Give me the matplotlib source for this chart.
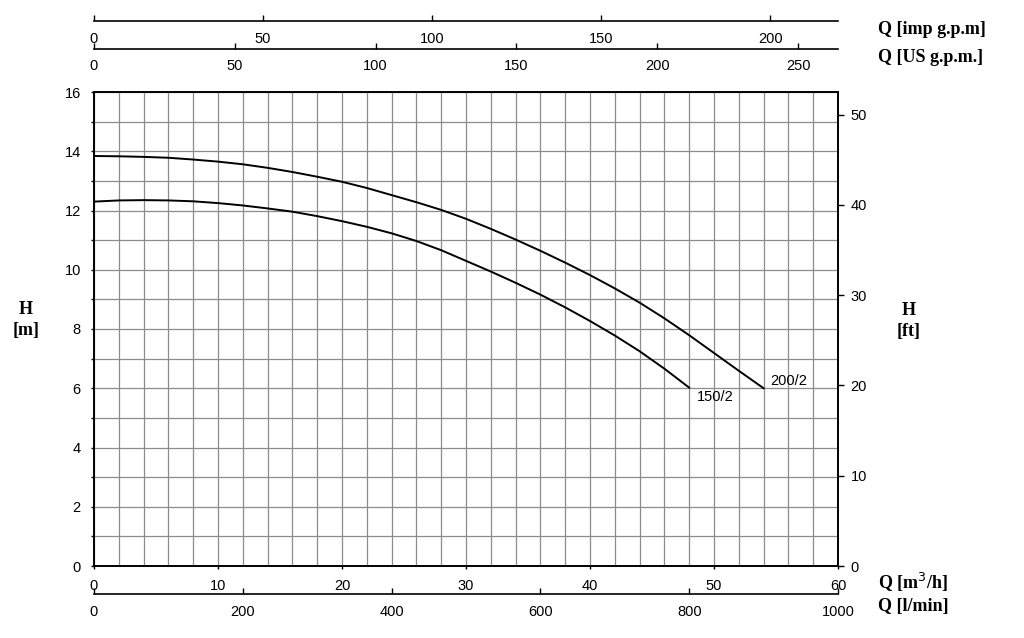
import matplotlib
matplotlib.use('Agg')
import matplotlib.pyplot as plt
from matplotlib.ticker import MultipleLocator

# ---------------- data ----------------
q_200 = [0, 2, 4, 6, 8, 10, 12, 14, 16, 18, 20, 22, 24, 26, 28, 30, 32, 34, 36, 38,
         40, 42, 44, 46, 48, 50, 52, 54]
h_200 = [13.84, 13.83, 13.81, 13.78, 13.72, 13.65, 13.56, 13.44, 13.30, 13.14, 12.97,
         12.76, 12.52, 12.28, 12.02, 11.72, 11.38, 11.02, 10.64, 10.24, 9.82, 9.37,
         8.89, 8.36, 7.79, 7.19, 6.59, 6.00]

q_150 = [0, 2, 4, 6, 8, 10, 12, 14, 16, 18, 20, 22, 24, 26, 28, 30, 32, 34, 36, 38,
         40, 42, 44, 46, 48]
h_150 = [12.30, 12.34, 12.35, 12.34, 12.31, 12.25, 12.17, 12.07, 11.96, 11.81, 11.64,
         11.45, 11.23, 10.97, 10.66, 10.30, 9.94, 9.56, 9.16, 8.73, 8.27, 7.78, 7.25,
         6.66, 6.02]

curve_names = ['200/2', '150/2']

q_m3h_ticks = [0, 10, 20, 30, 40, 50, 60]
q_lmin_ticks = [0, 200, 400, 600, 800, 1000]
q_us_ticks = [0, 50, 100, 150, 200, 250]
q_imp_ticks = [0, 50, 100, 150, 200]
h_m_ticks = [0, 2, 4, 6, 8, 10, 12, 14, 16]
h_ft_ticks = [0, 10, 20, 30, 40, 50]

Q_MAX = 60.0
H_MAX = 16.0
LMIN_MAX = Q_MAX * 1000 / 60
US_MAX = LMIN_MAX / 3.78541
IMP_MAX = LMIN_MAX / 4.54609
FT_MAX = H_MAX * 3.28084

# ---------------- layout ----------------
W, Hpx = 1024, 638
fig = plt.figure(figsize=(W / 100, Hpx / 100), dpi=100)

def fx(px):
    return px / W

def fy(py):
    return 1 - py / Hpx

TICKFONT = dict(family='Liberation Sans', size=10.5)
LABFONT = dict(family='Liberation Serif', size=13, weight='bold')

L, R, T, B = 94, 838, 92, 566
ax = fig.add_axes([fx(L), fy(B), fx(R) - fx(L), fy(T) - fy(B)])
ax.set_xlim(0, Q_MAX)
ax.set_ylim(0, H_MAX)
ax.set_xticks(q_m3h_ticks)
ax.xaxis.set_minor_locator(MultipleLocator(2))
ax.set_yticks(h_m_ticks)
ax.yaxis.set_minor_locator(MultipleLocator(1))
ax.grid(True, which='both', color='#8c8c8c', lw=0.9)
ax.set_axisbelow(True)
ax.tick_params(axis='x', which='major', direction='out', length=2.5, width=1, pad=7, labelsize=10.5)
ax.tick_params(axis='x', which='minor', length=0)
ax.tick_params(axis='y', which='both', direction='out', length=2.5, width=1, pad=7, labelsize=10.5)
for s in ax.spines.values():
    s.set_linewidth(1.2)
    s.set_color('black')
for lab in ax.get_xticklabels() + ax.get_yticklabels():
    lab.set_fontfamily('Liberation Sans')

ax.plot(q_200, h_200, color='black', lw=1.4)
ax.plot(q_150, h_150, color='black', lw=1.4)
ax.text(q_200[-1] + 0.5, h_200[-1] + 0.25, curve_names[0], fontdict=TICKFONT, va='center', ha='left')
ax.text(q_150[-1] + 0.6, h_150[-1] - 0.3, curve_names[1], fontdict=TICKFONT, va='center', ha='left')

# right ft axis
ax2 = ax.twinx()
ax2.set_ylim(0, FT_MAX)
ax2.set_yticks(h_ft_ticks)
ax2.tick_params(axis='y', direction='out', length=4, width=1, pad=5, labelsize=10.5)
for lab in ax2.get_yticklabels():
    lab.set_fontfamily('Liberation Sans')
for s in ax2.spines.values():
    s.set_linewidth(1.2)

# auxiliary line axes
def line_axis(ypx, vmax, ticks, pad):
    a = fig.add_axes([fx(L), fy(ypx), fx(R) - fx(L), 0.0001])
    a.patch.set_alpha(0)
    for k in ('left', 'right', 'top'):
        a.spines[k].set_visible(False)
    a.spines['bottom'].set_linewidth(1.2)
    a.set_xlim(0, vmax)
    a.set_xticks(ticks)
    a.set_yticks([])
    a.tick_params(axis='x', direction='in', length=4, width=1, pad=pad, labelsize=10.5)
    for lab in a.get_xticklabels():
        lab.set_fontfamily('Liberation Sans')
    return a

line_axis(594, LMIN_MAX, q_lmin_ticks, 8)
line_axis(49, US_MAX, q_us_ticks, 7.5)
line_axis(20.5, IMP_MAX, q_imp_ticks, 8.5)

# axis titles
fig.text(fx(878), fy(30), 'Q [imp g.p.m]', fontdict=LABFONT, ha='left', va='center')
fig.text(fx(878), fy(58), 'Q [US g.p.m.]', fontdict=LABFONT, ha='left', va='center')
fig.text(fx(878), fy(582), 'Q [m$^3$/h]', fontdict=LABFONT, ha='left', va='center')
fig.text(fx(878), fy(606), 'Q [l/min]', fontdict=LABFONT, ha='left', va='center')
fig.text(fx(26), fy(320), 'H\n[m]', fontdict=LABFONT, ha='center', va='center', linespacing=1.3)
fig.text(fx(909), fy(321), 'H\n[ft]', fontdict=LABFONT, ha='center', va='center', linespacing=1.3)

fig.savefig('out.png', dpi=100, facecolor='white')
